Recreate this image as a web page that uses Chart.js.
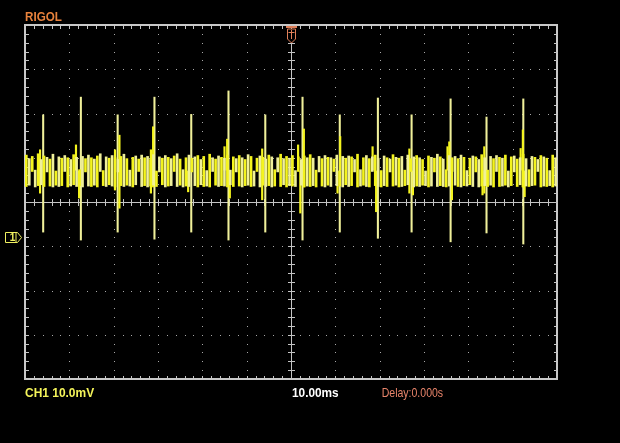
<!DOCTYPE html>
<html><head><meta charset="utf-8">
<script src="https://cdn.jsdelivr.net/npm/chart.js@4.4.1/dist/chart.umd.min.js"></script>
<style>html,body{margin:0;padding:0;background:#000;overflow:hidden}canvas{display:block}</style>
</head><body>
<canvas id="c" width="620" height="443"></canvas>
<script>
// ---- scope settings ----
const TIME_MIN_MS = -60, TIME_MAX_MS = 60, TIME_DIV_MS = 10, TIME_MINOR_MS = 2;
const VOLT_MIN_MV = -40, VOLT_MAX_MV = 40, VOLT_DIV_MV = 10, VOLT_MINOR_MV = 2;
const CH1_GROUND_MV = -7.8;
const TRIGGER_POS_MS = 0;

// ---- text ----
const brandLabel = 'RIGOL';
const ch1Label = 'CH1 10.0mV';
const timebaseLabel = '10.00ms';
const delayLabel = 'Delay:0.000s';

// ---- noise band: one column per sample, mV (top / bottom of each trace column) ----
const BAND_START_MS = -59.7;
const BAND_STEP_MS = 0.667;
const bandHigh = [
10.6,9.8,10.3,7.2,10.9,9.6,10.4,10.1,9.7,10.8,7.0,10.2,9.9,10.5,10.0,9.6,10.7,10.1,7.3,10.3,
9.8,10.6,10.0,9.7,10.4,10.9,7.1,10.2,9.9,10.5,10.0,9.6,10.3,10.8,9.8,7.2,10.1,10.4,9.7,10.6,
10.0,10.3,9.6,10.7,7.0,10.2,9.9,10.5,10.1,9.8,10.4,10.9,9.7,7.3,10.0,10.6,9.9,10.2,10.5,9.6,
10.3,7.1,10.8,10.0,9.7,10.4,10.1,9.9,10.6,7.2,10.2,9.8,10.5,10.0,9.6,10.7,10.3,7.0,9.9,10.4,
10.1,9.7,10.6,10.2,7.3,10.0,10.8,9.8,10.3,9.9,10.5,7.1,10.2,9.6,10.4,10.0,10.7,9.9,7.2,10.3,
9.8,10.5,10.1,10.0,9.7,10.6,7.0,10.3,9.9,10.4,10.2,9.6,10.8,7.3,10.0,10.5,9.8,10.2,10.6,9.9,
7.1,10.4,10.0,9.7,10.7,10.1,9.9,10.3,7.2,10.6,9.8,10.2,10.5,10.0,9.6,7.0,10.4,10.1,9.9,10.8,
10.2,9.7,7.3,10.5,10.0,10.3,9.8,10.6,10.1,7.1,9.9,10.4,10.2,9.6,10.7,10.0,7.2,10.3,9.8,10.5,
10.1,9.9,10.6,7.0,10.2,10.4,9.7,10.0,10.8,9.8,7.3,10.3,10.1,9.6,10.5,10.2,9.9,7.1,10.6,10.0
];
const bandLow = [
3.5,3.8,6.9,3.4,3.7,3.9,3.5,6.8,3.6,3.4,3.8,3.5,3.7,6.9,3.4,3.6,3.9,3.5,3.7,3.4,
6.8,3.6,3.5,3.8,3.4,6.9,3.7,3.5,3.9,3.6,3.4,6.8,3.7,3.5,3.8,3.6,3.4,3.9,6.9,3.5,
3.7,3.4,3.6,3.8,3.5,6.8,3.9,3.4,3.6,3.7,6.9,3.5,3.8,3.4,3.6,3.5,6.8,3.7,3.4,3.9,
3.5,3.6,3.4,6.9,3.8,3.5,3.7,3.6,3.4,3.9,3.5,6.8,3.6,3.4,3.7,3.8,3.5,3.6,6.9,3.4,
3.8,3.5,3.7,3.4,3.6,6.8,3.5,3.9,3.4,3.7,3.6,3.5,6.9,3.8,3.4,3.6,3.5,3.7,3.4,6.8,
3.6,3.4,3.8,3.5,6.9,3.7,3.6,3.4,3.9,3.5,3.7,6.8,3.4,3.6,3.8,3.5,3.4,6.9,3.7,3.5,
3.4,3.7,3.5,6.8,3.6,3.8,3.4,3.5,3.7,3.9,6.9,3.4,3.6,3.5,3.8,3.7,3.4,3.6,6.8,3.5,
3.7,3.5,3.4,3.6,6.9,3.8,3.5,3.4,3.7,3.6,3.9,3.5,6.8,3.4,3.6,3.7,3.5,3.8,3.4,6.9,
3.5,3.6,3.8,3.4,3.7,6.8,3.5,3.9,3.4,3.6,3.5,3.7,3.8,6.9,3.4,3.6,3.5,3.7,3.4,3.6
];

// ---- main spikes (ms, mV) ----
const spikeTimes = [-55.9,-47.4,-39.1,-30.8,-22.5,-14.1,-5.8,2.6,11.0,19.6,27.2,36.0,44.1,52.4];
const spikeHigh  = [19.7,23.7,19.7,23.7,19.8,25.1,19.7,23.7,19.7,23.5,19.7,23.3,19.2,23.3];
const spikeLow   = [-6.8,-8.6,-6.8,-8.4,-6.8,-8.6,-6.8,-8.6,-6.8,-8.2,-6.8,-9.0,-7.0,-9.5];

// ---- smaller excursions next to the spikes (ms, mV) ----
const glitchTimes = [-56.6,-48.5,-47.8,-39.7,-38.7,-31.6,-31.1,-23.2,-15.0,-14.4,-13.8,-6.5,1.6,2.1,2.9,10.5,11.1,18.4,19.2,26.7,27.5,35.3,35.7,36.3,43.2,43.6,51.8,52.3,52.7];
const glitchHigh  = [11.8,12.9,7.0,11.8,15.1,11.8,17.0,7.0,12.5,14.2,7.0,12.0,12.9,7.0,16.5,7.0,14.8,12.5,7.0,12.0,7.0,12.5,13.6,7.0,7.0,12.5,12.1,16.3,7.0];
const glitchLow   = [2.0,7.2,0.9,2.7,-1.4,2.0,3.4,2.3,7.2,7.2,0.9,0.5,7.2,-2.5,3.4,2.0,7.2,7.2,-2.2,2.0,1.6,7.2,7.2,0.5,1.6,2.0,7.2,3.4,1.2];

const TRACE_BRIGHT = '#f4f41e';
const TRACE_PALE = '#f0f09a';

const bandData = bandHigh.map((h, i) => ({ x: BAND_START_MS + i * BAND_STEP_MS, y: [bandLow[i], h] }));
const spikeData = spikeTimes.map((t, i) => ({ x: t, y: [spikeLow[i], spikeHigh[i]] }));
const glitchData = glitchTimes.map((t, i) => ({ x: t, y: [glitchLow[i], glitchHigh[i]] }));

const graticule = {
  id: 'graticule',
  beforeDatasetsDraw(chart) {
    const { ctx, chartArea: a, scales: { x, y } } = chart;
    const X = v => Math.round(x.getPixelForValue(v));
    const Y = v => Math.round(y.getPixelForValue(v));
    ctx.save();
    // dotted division lines
    ctx.fillStyle = '#a8a8a8';
    for (let t = TIME_MIN_MS + TIME_DIV_MS; t < TIME_MAX_MS; t += TIME_DIV_MS) {
      if (t === 0) continue;
      for (let v = VOLT_MIN_MV + VOLT_MINOR_MV; v < VOLT_MAX_MV; v += VOLT_MINOR_MV) ctx.fillRect(X(t), Y(v), 1, 1);
    }
    for (let v = VOLT_MIN_MV + VOLT_DIV_MV; v < VOLT_MAX_MV; v += VOLT_DIV_MV) {
      if (v === 0) continue;
      for (let t = TIME_MIN_MS + TIME_MINOR_MS; t < TIME_MAX_MS; t += TIME_MINOR_MS) ctx.fillRect(X(t), Y(v), 1, 1);
    }
    // centre cross with minor ticks
    ctx.fillStyle = '#c4c4c4';
    const cx = X(0), cy = Y(0);
    ctx.fillRect(cx, a.top, 1, a.bottom - a.top);
    ctx.fillRect(a.left, cy, a.right - a.left, 1);
    for (let t = TIME_MIN_MS + TIME_MINOR_MS; t < TIME_MAX_MS; t += TIME_MINOR_MS) {
      ctx.fillRect(X(t), cy - 3, 1, 7);
      ctx.fillRect(X(t), a.top + 1, 1, 3);
      ctx.fillRect(X(t), a.bottom - 3, 1, 3);
    }
    for (let v = VOLT_MIN_MV + VOLT_MINOR_MV; v < VOLT_MAX_MV; v += VOLT_MINOR_MV) {
      ctx.fillRect(cx - 3, Y(v), 7, 1);
      ctx.fillRect(a.left + 1, Y(v), 3, 1);
      ctx.fillRect(a.right - 3, Y(v), 3, 1);
    }
    // frame
    ctx.fillStyle = '#c8c8c8';
    ctx.fillRect(a.left - 1, a.top - 1, a.right - a.left + 2, 2);
    ctx.fillRect(a.left - 1, a.bottom - 1, a.right - a.left + 2, 2);
    ctx.fillRect(a.left - 1, a.top - 1, 2, a.bottom - a.top + 2);
    ctx.fillRect(a.right - 1, a.top - 1, 2, a.bottom - a.top + 2);
    ctx.restore();
  },
  afterDatasetsDraw(chart) {
    const { ctx, chartArea: a, scales: { x, y } } = chart;
    ctx.save();
    // trigger position marker
    const tx = Math.round(x.getPixelForValue(TRIGGER_POS_MS)) + 0.5;
    const t0 = a.top;
    ctx.fillStyle = '#000';
    ctx.strokeStyle = '#e0805a';
    ctx.lineWidth = 1;
    ctx.beginPath();
    ctx.moveTo(tx - 4, t0 + 4); ctx.lineTo(tx - 4, t0 + 14); ctx.lineTo(tx, t0 + 18);
    ctx.lineTo(tx + 4, t0 + 14); ctx.lineTo(tx + 4, t0 + 4); ctx.closePath();
    ctx.fill(); ctx.stroke();
    ctx.fillStyle = '#e0805a';
    ctx.fillRect(tx - 5.5, t0 + 1, 11, 2);
    ctx.fillRect(tx - 3, t0 + 7, 6, 1);
    ctx.fillRect(tx - 0.5, t0 + 5, 1, 9);
    // channel 1 ground marker
    const gy = Math.round(y.getPixelForValue(CH1_GROUND_MV)) + 0.5;
    const gr = a.left - 3.5;
    ctx.strokeStyle = '#f0f060';
    ctx.beginPath();
    ctx.moveTo(gr - 16, gy - 5); ctx.lineTo(gr - 4, gy - 5); ctx.lineTo(gr, gy);
    ctx.lineTo(gr - 4, gy + 5); ctx.lineTo(gr - 16, gy + 5); ctx.closePath();
    ctx.stroke();
    ctx.fillStyle = '#f0f060';
    ctx.font = 'bold 10px "Liberation Sans"';
    ctx.textAlign = 'center'; ctx.textBaseline = 'middle';
    ctx.fillText('1', gr - 9, gy + 0.5);
    ctx.fillRect(gr - 9 + 3, gy - 5, 1, 10);
    // labels
    const drawText = (txt, px, py, font, color, sx) => {
      ctx.save();
      ctx.font = font; ctx.fillStyle = color;
      ctx.textAlign = 'left'; ctx.textBaseline = 'alphabetic';
      ctx.translate(px, py); ctx.scale(sx, 1);
      ctx.fillText(txt, 0, 0);
      ctx.restore();
    };
    drawText(brandLabel, a.left, a.top - 4, 'bold 12px "Liberation Sans"', '#e8823c', 0.97);
    drawText(ch1Label, a.left, a.bottom + 18, 'bold 13px "Liberation Sans"', '#f4f45a', 0.92);
    drawText(timebaseLabel, x.getPixelForValue(TRIGGER_POS_MS) + 1, a.bottom + 18, 'bold 13px "Liberation Sans"', '#ffffff', 0.91);
    drawText(delayLabel, x.getPixelForValue(20) + 2, a.bottom + 18, '13px "Liberation Sans"', '#e8846a', 0.81);
    ctx.restore();
  }
};

new Chart(document.getElementById('c'), {
  type: 'bar',
  data: {
    datasets: [
      { label: 'CH1 band', data: bandData, barThickness: 2, borderWidth: 0,
        backgroundColor: c => (c.dataIndex % 2 ? TRACE_PALE : TRACE_BRIGHT), grouped: false },
      { label: 'CH1 glitches', data: glitchData, barThickness: 1.5, borderWidth: 0,
        backgroundColor: TRACE_BRIGHT, grouped: false },
      { label: 'CH1 spikes', data: spikeData, barThickness: 1.4, borderWidth: 0,
        backgroundColor: TRACE_PALE, grouped: false }
    ]
  },
  options: {
    responsive: false,
    animation: false,
    devicePixelRatio: 1,
    layout: { padding: { left: 25, top: 25, right: 63, bottom: 64 } },
    plugins: { legend: { display: false }, tooltip: { enabled: false } },
    scales: {
      x: { type: 'linear', min: TIME_MIN_MS, max: TIME_MAX_MS, display: false, offset: false },
      y: { type: 'linear', min: VOLT_MIN_MV, max: VOLT_MAX_MV, display: false }
    }
  },
  plugins: [graticule]
});
</script>
</body></html>
